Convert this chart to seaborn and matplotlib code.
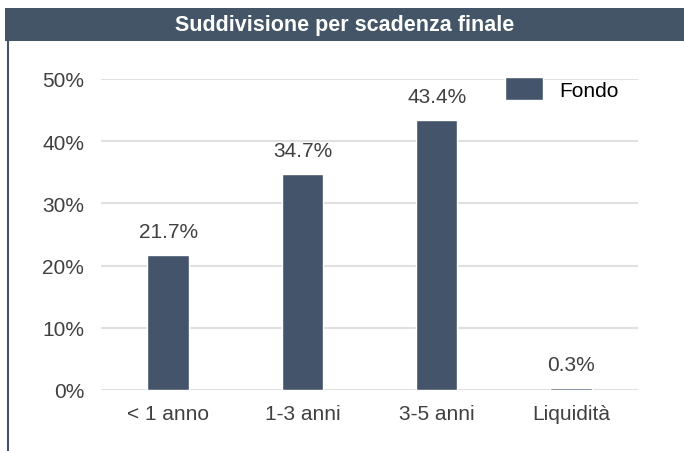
import matplotlib
matplotlib.use("Agg")
import matplotlib.pyplot as plt
from matplotlib.patches import Rectangle
from matplotlib.lines import Line2D
from matplotlib.ticker import FuncFormatter
import seaborn as sns
import pandas as pd

categories = ["< 1 anno", "1-3 anni", "3-5 anni", "Liquidità"]
values = [21.7, 34.7, 43.4, 0.3]
value_labels = ["21.7%", "34.7%", "43.4%", "0.3%"]
series_name = "Fondo"
title = "Suddivisione per scadenza finale"
yticks = [0, 10, 20, 30, 40, 50]

sns.set_theme(style="white")
plt.rcParams["font.family"] = ["Liberation Sans", "DejaVu Sans"]

BAR = "#44546A"
TXT = "#404040"

W, H = 684, 452
fig = plt.figure(figsize=(W / 100, H / 100), dpi=100)
ax = fig.add_axes([101 / W, 1 - 391 / H, (638 - 101) / W, (391 - 80) / H])

df = pd.DataFrame({"cat": categories, "val": values})
sns.barplot(data=df, x="cat", y="val", color=BAR, saturation=1, width=0.31,
            ax=ax, label=series_name)

ax.set_ylim(0, 50)
ax.set_xlim(-0.5, 3.5)
ax.set_yticks(yticks)
ax.yaxis.set_major_formatter(FuncFormatter(lambda v, p: f"{v:.0f}%"))
ax.set_xlabel("")
ax.set_ylabel("")
ax.grid(axis="y", color="#e0e0e0", linewidth=1.5)
ax.set_axisbelow(True)
for s in ax.spines.values():
    s.set_visible(False)
ax.tick_params(axis="both", length=0, labelsize=15, labelcolor=TXT)
ax.tick_params(axis="y", pad=12)
ax.tick_params(axis="x", pad=10)

ax.bar_label(ax.containers[0], labels=value_labels, padding=10, fontsize=15, color=TXT)

leg = ax.legend(loc="upper left", bbox_to_anchor=(497 / W, 1 - 70 / H),
                bbox_transform=fig.transFigure, frameon=False, fontsize=15,
                handlelength=1.8, handleheight=1.3, handletextpad=0.8,
                borderaxespad=0)
for t in leg.get_texts():
    t.set_color("black")

# title bar
fig.patches.append(Rectangle((5 / W, 1 - 42 / H), 1 - 5 / W, 33 / H,
                             transform=fig.transFigure, facecolor="#435566",
                             edgecolor="none", zorder=0))
fig.text((5 + W) / 2 / W, 1 - 25.5 / H, title, ha="center", va="center",
         color="white", fontsize=15.5, fontweight="bold")
fig.lines.append(Line2D([7.5 / W, 7.5 / W], [0, 1 - 42 / H], transform=fig.transFigure,
                        color="#435566", linewidth=1.5))

fig.savefig("out.png", dpi=100)
